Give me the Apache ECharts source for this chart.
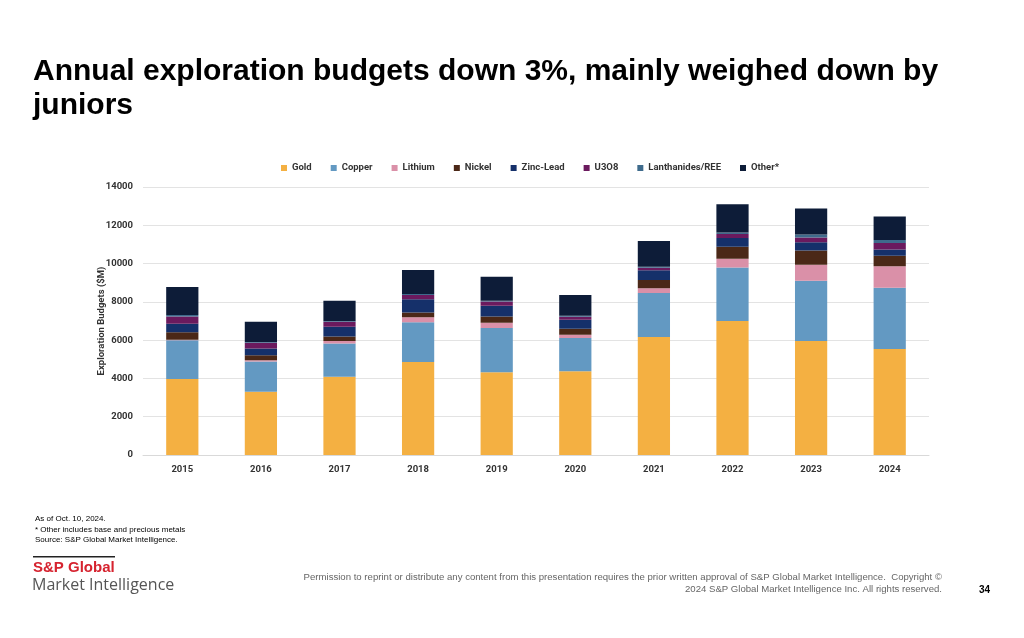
<!DOCTYPE html>
<html><head><meta charset="utf-8">
<script src="https://cdn.jsdelivr.net/npm/echarts@6/dist/echarts.min.js"></script>
<style>html,body{margin:0;padding:0;background:#fff}#c{width:1024px;height:638px}</style>
</head><body><div id="c"></div>
<script>
const years = ['2015','2016','2017','2018','2019','2020','2021','2022','2023','2024'];
const seriesNames = ['Gold','Copper','Lithium','Nickel','Zinc-Lead','U3O8','Lanthanides/REE','Other*'];
const gold       = [3970, 3310, 4090, 4860, 4320, 4370, 6160, 7000, 5950, 5540];
const copper     = [2020, 1570, 1740, 2070, 2310, 1740, 2300, 2800, 3150, 3200];
const lithium    = [30, 70, 120, 260, 280, 175, 245, 450, 835, 1115];
const nickel     = [390, 260, 245, 260, 330, 315, 435, 625, 750, 555];
const zincLead   = [450, 350, 505, 680, 555, 470, 505, 455, 435, 330];
const u3o8       = [380, 310, 260, 225, 225, 155, 140, 210, 245, 330];
const lanthanides= [70, 35, 35, 50, 35, 50, 55, 85, 155, 155];
const other      = [1460, 1060, 1060, 1255, 1255, 1080, 1340, 1480, 1360, 1240];
const yTicks = [0, 2000, 4000, 6000, 8000, 10000, 12000, 14000];
const colors = ['#F4B042','#6399C2','#DA90A8','#4B2817','#15306A','#6B1A5E','#3F6B8C','#0D1C38'];
const values = [gold, copper, lithium, nickel, zincLead, u3o8, lanthanides, other];

const chart = echarts.init(document.getElementById('c'), null, {renderer:'canvas'});
const font = 'Roboto, "Liberation Sans", sans-serif';
chart.setOption({
  animation:false,
  color: colors,
  textStyle:{fontFamily: font},
  legend:{
    top:158, left:276, itemWidth:6, itemHeight:6, itemGap:19, icon:'rect',
    textStyle:{fontSize:9.5, fontWeight:'bold', color:'#333', fontFamily: font},
    data: seriesNames
  },
  grid:{left:143, right:95, top:187, bottom:183},
  xAxis:{
    type:'category', data: years,
    axisLine:{lineStyle:{color:'#d9d9d9'}},
    axisTick:{show:false},
    axisLabel:{fontSize:9.5, fontWeight:'bold', color:'#333', margin:10}
  },
  yAxis:{
    type:'value', min:yTicks[0], max:yTicks[yTicks.length-1], interval:2000,
    name:'Exploration Budgets ($M)', nameLocation:'middle', nameGap:36, nameRotate:90,
    nameMoveOverlap:false,
    nameTextStyle:{fontSize:9.5, fontWeight:'bold', color:'#333'},
    axisLine:{show:false}, axisTick:{show:false},
    axisLabel:{fontSize:9.5, fontWeight:'bold', color:'#333', margin:10, formatter:v=>String(v)},
    splitLine:{lineStyle:{color:'#e3e3e3'}}
  },
  series: seriesNames.map((n,i)=>({
    name:n, type:'bar', stack:'total', data: values[i], barWidth:'41%',
    itemStyle:{color: colors[i]}
  })),
  graphic:[
    {type:'text', left:33, top:55, style:{text:'Annual exploration budgets down 3%, mainly weighed down by\njuniors', font:'bold 30px "Liberation Sans", Arial, sans-serif', fill:'#000', lineHeight:34}},
    {type:'text', left:35, top:514, style:{text:'As of Oct. 10, 2024.\n* Other includes base and precious metals\nSource: S&P Global Market Intelligence.', font:'8px "Liberation Sans", Arial, sans-serif', fill:'#000', lineHeight:10.5}},
    {type:'rect', shape:{x:33, y:556, width:82, height:1.5}, style:{fill:'#222'}},
    {type:'text', left:33, top:560, style:{text:'S&P Global', font:'bold 15px "Liberation Sans", Arial, sans-serif', fill:'#D6232F'}},
    {type:'text', left:32, top:577, style:{text:'Market Intelligence', font:'16px "Open Sans", "Liberation Sans", sans-serif', fill:'#555'}},
    {type:'text', right:82, top:572, style:{text:'Permission to reprint or distribute any content from this presentation requires the prior written approval of S&P Global Market Intelligence.  Copyright ©', font:'9.6px "Liberation Sans", Arial, sans-serif', fill:'#666'}},
    {type:'text', right:82, top:584, style:{text:'2024 S&P Global Market Intelligence Inc. All rights reserved.', font:'9.6px "Liberation Sans", Arial, sans-serif', fill:'#666'}},
    {type:'text', left:979, top:585, style:{text:'34', font:'bold 10px "Liberation Sans", Arial, sans-serif', fill:'#000'}}
  ]
});
</script></body></html>
